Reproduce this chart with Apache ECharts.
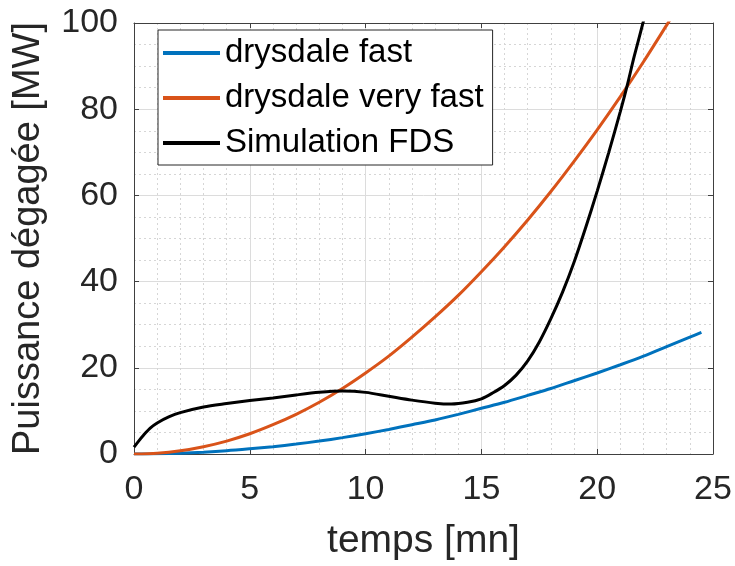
<!DOCTYPE html>
<html>
<head>
<meta charset="utf-8">
<script src="https://cdn.jsdelivr.net/npm/echarts@6/dist/echarts.min.js"></script>
<style>
html,body{margin:0;padding:0;background:#fff;}
#chart{width:735px;height:566px;}
</style>
</head>
<body>
<div id="chart"></div>
<script>
// ---- Data ----
const seriesNames = ['drysdale fast', 'drysdale very fast', 'Simulation FDS'];

const fastTime = [0, 1, 2, 3, 4, 5, 6, 7, 8, 9, 10, 11, 12, 13, 14, 15, 16, 17, 18, 19, 20, 21, 22, 23, 24, 24.5];
const fastPower = [0, 0.05, 0.19, 0.42, 0.75, 1.2, 1.7, 2.3, 3.0, 3.8, 4.7, 5.7, 6.8, 7.9, 9.2, 10.6, 12.0, 13.6, 15.2, 17.0, 18.8, 20.7, 22.7, 24.9, 27.1, 28.2];

const veryFastTime = [0, 1, 2, 3, 4, 5, 6, 7, 8, 9, 10, 11, 12, 13, 14, 15, 16, 17, 18, 19, 20, 21, 22, 23, 23.5];
const veryFastPower = [0, 0.19, 0.75, 1.7, 3.0, 4.7, 6.8, 9.2, 12.0, 15.2, 18.8, 22.7, 27.1, 31.8, 36.8, 42.3, 48.1, 54.3, 60.9, 67.9, 75.2, 82.9, 91.0, 99.5, 103.8];

const fdsTime = [0, 0.2, 0.4, 0.7, 1.0, 1.5, 2.0, 3.0, 4.0, 5.0, 6.0, 7.0, 8.0, 9.0, 10.0, 11.0, 12.0, 13.0, 13.7, 14.4, 15.0, 15.5, 16.0, 16.5, 17.0, 17.5, 18.0, 18.5, 19.0, 19.5, 20.0, 20.5, 21.0, 21.3, 21.6, 22.0, 22.2];
const fdsPower = [1.6, 3.0, 4.3, 6.0, 7.2, 8.6, 9.6, 10.9, 11.7, 12.4, 13.0, 13.7, 14.3, 14.6, 14.3, 13.4, 12.5, 11.8, 11.6, 12.0, 12.8, 14.2, 15.9, 18.3, 21.6, 26.0, 31.4, 37.5, 44.5, 52.5, 61.0, 70.0, 79.5, 85.6, 92.3, 100.5, 105];

const xTicks = [0, 5, 10, 15, 20, 25];
const yTicks = [0, 20, 40, 60, 80, 100];

const xLabel = 'temps [mn]';
const yLabel = 'Puissance dégagée [MW]';

// ---- Build chart ----
const pairs = (xs, ys) => xs.map((x, i) => [x, ys[i]]);
const FONT = 'Liberation Sans, Arial, Helvetica, sans-serif';
const TXT = '#262626';
const AXC = '#404040';
const colors = ['#0072BD', '#D95319', '#000000'];

const baseX = {
  type: 'value', min: xTicks[0], max: xTicks[xTicks.length - 1], interval: xTicks[1] - xTicks[0]
};
const baseY = {
  type: 'value', min: yTicks[0], max: yTicks[yTicks.length - 1], interval: yTicks[1] - yTicks[0]
};

const chart = echarts.init(document.getElementById('chart'), null, {renderer: 'canvas'});
chart.setOption({
  animation: false,
  backgroundColor: '#fff',
  grid: {left: 134, right: 22, top: 23, bottom: 111, containLabel: false},
  legend: {
    orient: 'vertical',
    left: 158, top: 30,
    data: seriesNames.map(n => ({name: n, icon: 'rect'})),
    itemWidth: 57, itemHeight: 4, itemGap: 5,
    padding: [3, 9, 2, 5],
    backgroundColor: '#fff',
    borderColor: '#262626', borderWidth: 1, borderRadius: 0,
    textStyle: {fontFamily: FONT, fontSize: 33, color: '#000', lineHeight: 40}
  },
  xAxis: [
    Object.assign({}, baseX, {
      position: 'bottom',
      name: xLabel, nameLocation: 'middle', nameGap: 68,
      nameTextStyle: {fontFamily: FONT, fontSize: 39, color: TXT},
      axisLine: {show: true, onZero: false, lineStyle: {color: AXC, width: 1}},
      axisTick: {show: true, inside: true, length: 5, lineStyle: {color: AXC}},
      axisLabel: {fontFamily: FONT, fontSize: 34, color: TXT, margin: 19},
      splitLine: {show: true, lineStyle: {color: '#dcdcdc', width: 1}},
      minorTick: {show: false, splitNumber: 5},
      minorSplitLine: {show: true, lineStyle: {color: '#d6d6d6', width: 1, type: [2, 3]}}
    }),
    Object.assign({}, baseX, {
      position: 'top',
      axisLine: {show: true, onZero: false, lineStyle: {color: AXC, width: 1}},
      axisTick: {show: true, inside: true, length: 5, lineStyle: {color: AXC}},
      axisLabel: {show: false},
      splitLine: {show: false}
    })
  ],
  yAxis: [
    Object.assign({}, baseY, {
      position: 'left',
      name: yLabel, nameLocation: 'middle', nameGap: 86, nameRotate: 90,
      nameTextStyle: {fontFamily: FONT, fontSize: 38, color: TXT},
      axisLine: {show: true, onZero: false, lineStyle: {color: AXC, width: 1}},
      axisTick: {show: true, inside: true, length: 5, lineStyle: {color: AXC}},
      axisLabel: {fontFamily: FONT, fontSize: 34, color: TXT, margin: 16},
      splitLine: {show: true, lineStyle: {color: '#dcdcdc', width: 1}},
      minorTick: {show: false, splitNumber: 4},
      minorSplitLine: {show: true, lineStyle: {color: '#d6d6d6', width: 1, type: [2, 3]}}
    }),
    Object.assign({}, baseY, {
      position: 'right',
      axisLine: {show: true, onZero: false, lineStyle: {color: AXC, width: 1}},
      axisTick: {show: true, inside: true, length: 5, lineStyle: {color: AXC}},
      axisLabel: {show: false},
      splitLine: {show: false}
    })
  ],
  series: [
    {
      name: seriesNames[0], type: 'line', xAxisIndex: 0, yAxisIndex: 0,
      data: pairs(fastTime, fastPower), symbol: 'none', smooth: 0.3, clip: true,
      itemStyle: {color: colors[0]}, lineStyle: {color: colors[0], width: 3}
    },
    {
      name: seriesNames[1], type: 'line', xAxisIndex: 0, yAxisIndex: 0,
      data: pairs(veryFastTime, veryFastPower), symbol: 'none', smooth: 0.3, clip: true,
      itemStyle: {color: colors[1]}, lineStyle: {color: colors[1], width: 3}
    },
    {
      name: seriesNames[2], type: 'line', xAxisIndex: 0, yAxisIndex: 0,
      data: pairs(fdsTime, fdsPower), symbol: 'none', smooth: 0.3, clip: true,
      itemStyle: {color: colors[2]}, lineStyle: {color: colors[2], width: 3}
    }
  ]
});
</script>
</body>
</html>
